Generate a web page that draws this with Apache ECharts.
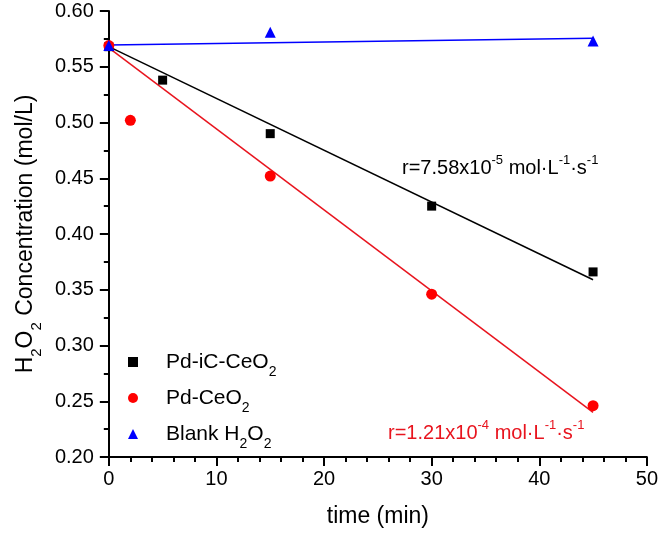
<!DOCTYPE html>
<html>
<head>
<meta charset="utf-8">
<script src="https://cdn.jsdelivr.net/npm/echarts@6/dist/echarts.min.js"></script>
<style>
html,body{margin:0;padding:0;background:#fff;}
#c{width:661px;height:534px;}
</style>
</head>
<body>
<div id="c"></div>
<script>
// Measured data
const tIC = [0, 5, 15, 30, 45];
const cIC = [0.568, 0.538, 0.490, 0.425, 0.366];
const tCe = [0, 2, 15, 30, 45];
const cCe = [0.569, 0.502, 0.452, 0.346, 0.246];
const tBlank = [0, 15, 45];
const cBlank = [0.569, 0.581, 0.573];
// Linear fits (endpoints)
const fitT = [0, 45];
const fitIC = [0.568, 0.359];
const fitCe = [0.567, 0.240];
const fitBlank = [0.5695, 0.5755];

const xTicks = [0, 10, 20, 30, 40, 50];
const yTicks = [0.20, 0.25, 0.30, 0.35, 0.40, 0.45, 0.50, 0.55, 0.60];

const names = ['Pd-iC-CeO2', 'Pd-CeO2', 'Blank H2O2'];
const legendRich = {
  'Pd-iC-CeO2': 'Pd-iC-CeO{s|2}',
  'Pd-CeO2': 'Pd-CeO{s|2}',
  'Blank H2O2': 'Blank H{s|2}O{s|2}'
};
const FONT = 'Liberation Sans, Arial, sans-serif';

function pairs(xs, ys) { return xs.map((x, i) => [x, ys[i]]); }

const chart = echarts.init(document.getElementById('c'), null, {renderer: 'canvas'});
chart.setOption({
  animation: false,
  backgroundColor: '#fff',
  grid: {left: 96, right: 12, top: 11, bottom: 77, containLabel: false},
  xAxis: {
    type: 'value', min: xTicks[0], max: xTicks[xTicks.length - 1], interval: 10,
    name: 'time (min)', nameLocation: 'middle', nameGap: 48,
    nameTextStyle: {fontFamily: FONT, fontSize: 23, color: '#000'},
    axisLine: {onZero: false, lineStyle: {color: '#000', width: 2}},
    axisTick: {show: true, length: 9, lineStyle: {color: '#000', width: 2}},
    minorTick: {show: true, splitNumber: 5, length: 5, lineStyle: {color: '#000', width: 2}},
    axisLabel: {fontFamily: FONT, fontSize: 20, color: '#000', margin: 12},
    splitLine: {show: false}
  },
  yAxis: {
    type: 'value', min: yTicks[0], max: yTicks[yTicks.length - 1], interval: 0.05,
    name: 'H{s|2}O{s|2} Concentration (mol/L)', nameLocation: 'middle', nameGap: 64,
    nameTextStyle: {fontFamily: FONT, fontSize: 23, color: '#000', lineHeight: 26,
      rich: {s: {fontFamily: FONT, fontSize: 15, color: '#000', verticalAlign: 'bottom', lineHeight: 36}}},
    axisLine: {onZero: false, lineStyle: {color: '#000', width: 2}},
    axisTick: {show: true, length: 9, lineStyle: {color: '#000', width: 2}},
    minorTick: {show: true, splitNumber: 2, length: 5, lineStyle: {color: '#000', width: 2}},
    axisLabel: {fontFamily: FONT, fontSize: 20, color: '#000', margin: 15,
      formatter: v => v.toFixed(2)},
    splitLine: {show: false}
  },
  legend: {
    orient: 'vertical', left: 123, top: 340, itemGap: 2,
    itemWidth: 10, itemHeight: 10, symbolKeepAspect: true,
    data: [
      {name: names[0], icon: 'rect'},
      {name: names[1], icon: 'circle'},
      {name: names[2], icon: 'triangle'}
    ],
    formatter: n => '{g| }' + legendRich[n],
    textStyle: {fontFamily: FONT, fontSize: 21, color: '#000', lineHeight: 24,
      rich: {
        g: {width: 23, fontSize: 21, lineHeight: 24},
        s: {fontFamily: FONT, fontSize: 14, color: '#000', verticalAlign: 'bottom', lineHeight: 34}
      }}
  },
  series: [
    {type: 'line', data: pairs(fitT, fitIC), showSymbol: false, silent: true, z: 1,
     lineStyle: {color: '#000', width: 1.5}},
    {type: 'line', data: pairs(fitT, fitCe), showSymbol: false, silent: true, z: 1,
     lineStyle: {color: '#e8141e', width: 1.5}},
    {type: 'line', data: pairs(fitT, fitBlank), showSymbol: false, silent: true, z: 1,
     lineStyle: {color: '#0000ff', width: 1.5}},
    {name: names[0], type: 'scatter', data: pairs(tIC, cIC), symbol: 'rect', symbolSize: 9, z: 3,
     itemStyle: {color: '#000', opacity: 1}},
    {name: names[1], type: 'scatter', data: pairs(tCe, cCe), symbol: 'circle', symbolSize: 11, z: 4,
     itemStyle: {color: '#ff0000', opacity: 1}},
    {name: names[2], type: 'scatter', data: pairs(tBlank, cBlank), symbol: 'triangle', symbolSize: 11, z: 5,
     itemStyle: {color: '#0000ff', opacity: 1}}
  ],
  graphic: [
    {type: 'text', left: 402, top: 154, z: 10,
     style: {text: 'r=7.58x10{p|-5} mol·L{p|-1}·s{p|-1}', fill: '#000', font: '20px ' + FONT, lineHeight: 28,
       rich: {p: {fontSize: 13, fontFamily: FONT, fill: '#000', verticalAlign: 'top', lineHeight: 28}}}},
    {type: 'text', left: 388, top: 419, z: 10,
     style: {text: 'r=1.21x10{p|-4} mol·L{p|-1}·s{p|-1}', fill: '#e8141e', font: '20px ' + FONT, lineHeight: 28,
       rich: {p: {fontSize: 13, fontFamily: FONT, fill: '#e8141e', verticalAlign: 'top', lineHeight: 28}}}}
  ]
});
</script>
</body>
</html>
